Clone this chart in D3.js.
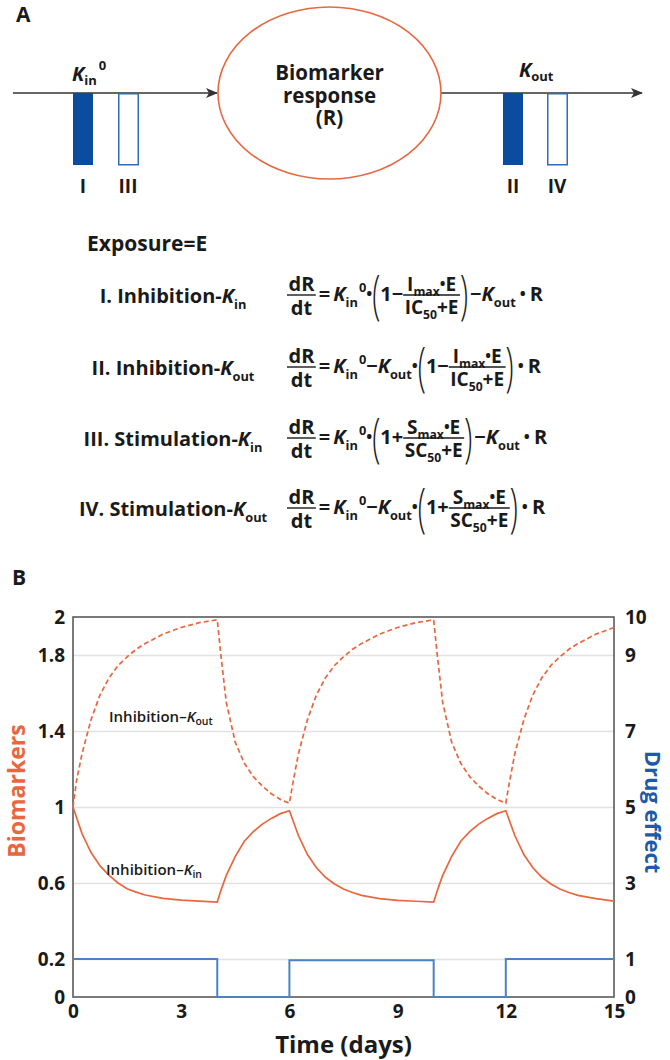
<!DOCTYPE html>
<html><head><meta charset="utf-8">
<script src="https://cdn.jsdelivr.net/npm/d3@7"></script>
<style>
body{margin:0;background:#fff}
svg{display:block}
text{font-family:"Open Sans",Lato,"DejaVu Sans",sans-serif;fill:#1a1a1a}
</style>
</head><body>
<svg id="c" width="670" height="1060"></svg>
<script>
// ---------------- DATA ----------------
const timeKin = [0,0.25,0.5,0.75,1,1.25,1.5,1.75,2,2.5,3,3.5,4,
  4.1,4.25,4.5,4.75,5,5.25,5.5,5.75,6,
  6.25,6.5,6.75,7,7.25,7.5,7.75,8,8.5,9,9.5,10,
  10.1,10.25,10.5,10.75,11,11.25,11.5,11.75,12,
  12.25,12.5,12.75,13,13.25,13.5,13.75,14,14.5,15];
const inhibitionKin = [1.00,0.86,0.76,0.69,0.64,0.60,0.57,0.552,0.537,0.519,0.51,0.505,0.50,
  0.56,0.64,0.74,0.82,0.87,0.91,0.94,0.965,0.98,
  0.85,0.75,0.68,0.63,0.595,0.568,0.55,0.535,0.518,0.509,0.504,0.50,
  0.56,0.64,0.74,0.82,0.87,0.91,0.94,0.965,0.98,
  0.85,0.75,0.68,0.63,0.595,0.568,0.55,0.535,0.518,0.505];
const timeKout = [0,0.1,0.25,0.5,0.75,1,1.25,1.5,1.75,2,2.5,3,3.5,4,
  4.1,4.25,4.5,4.75,5,5.25,5.5,5.75,6,
  6.1,6.25,6.5,6.75,7,7.25,7.5,7.75,8,8.5,9,9.5,10,
  10.1,10.25,10.5,10.75,11,11.25,11.5,11.75,12,
  12.1,12.25,12.5,12.75,13,13.25,13.5,13.75,14,14.5,15];
const inhibitionKout = [1.00,1.14,1.28,1.46,1.59,1.68,1.745,1.79,1.83,1.86,1.91,1.945,1.97,1.985,
  1.80,1.55,1.34,1.23,1.16,1.11,1.07,1.04,1.02,
  1.13,1.28,1.46,1.59,1.68,1.745,1.79,1.83,1.86,1.91,1.945,1.97,1.985,
  1.80,1.55,1.34,1.23,1.16,1.11,1.07,1.04,1.02,
  1.13,1.28,1.46,1.59,1.68,1.745,1.79,1.83,1.86,1.91,1.945];
const doseTimes = [0,4,6,10,12,15];
const drugEffect = [1,0,0.97,0,1,1];
const leftTicks = [0,0.2,0.6,1,1.4,1.8,2];
const rightTicks = [0,1,3,5,7,9,10];
const gridTicks = [0.2,0.6,1,1.4,1.8];
const xTicks = [0,3,6,9,12,15];
const modelNumerals = ["I","III","II","IV"];
const rowLabels = [["I. Inhibition-","in"],["II. Inhibition-","out"],["III. Stimulation-","in"],["IV. Stimulation-","out"]];
const responseLines = ["Biomarker","response","(R)"];

// ---------------- STYLE ----------------
const ORANGE = "#e8673f", BLUE_TXT = "#1d5aa8", BLUE_LINE = "#4a82c6", NAVY = "#0b4c9e";
const svg = d3.select("#c");

// ---------------- PANEL A: diagram ----------------
svg.append("text").attr("x",16).attr("y",22).attr("font-size",21).attr("font-weight",700).text("A");
const defs = svg.append("defs");
defs.append("marker").attr("id","arr").attr("viewBox","0 0 12 10").attr("refX",11).attr("refY",5)
  .attr("markerWidth",12).attr("markerHeight",10).attr("markerUnits","userSpaceOnUse").attr("orient","auto")
  .append("path").attr("d","M0,0 L12,5 L0,10 L3,5 Z").attr("fill","#333");
const axisY = 93;
svg.append("line").attr("x1",13).attr("x2",217).attr("y1",axisY).attr("y2",axisY)
  .attr("stroke","#333").attr("stroke-width",1.5).attr("marker-end","url(#arr)");
svg.append("line").attr("x1",441).attr("x2",642).attr("y1",axisY).attr("y2",axisY)
  .attr("stroke","#333").attr("stroke-width",1.5).attr("marker-end","url(#arr)");
svg.append("ellipse").attr("cx",329.5).attr("cy",93).attr("rx",111.5).attr("ry",86)
  .attr("fill","none").attr("stroke",ORANGE).attr("stroke-width",1.6);
const resp = svg.append("text").attr("text-anchor","middle").attr("font-size",20.5).attr("font-weight",700);
[80,103,125].forEach((y,i)=>resp.append("tspan").attr("x",329.5).attr("y",y).text(responseLines[i]));

const barX = [73,118,503,547];
const barFilled = [true,false,true,false];
barX.forEach((x,i)=>{
  svg.append("rect").attr("x",x+ (barFilled[i]?0:0.75)).attr("y",axisY+ (barFilled[i]?0:0.75))
    .attr("width",barFilled[i]?20:19.5).attr("height",barFilled[i]?72:71)
    .attr("fill",barFilled[i]?NAVY:"#fff").attr("stroke",barFilled[i]?"none":"#2f6db8").attr("stroke-width",1.5);
  svg.append("text").attr("x",x+10).attr("y",193).attr("text-anchor","middle")
    .attr("font-size",19).attr("font-weight",700).text(modelNumerals[i]);
});
function kLabel(x,y,sub,sup){
  const t = svg.append("text").attr("x",x).attr("y",y).attr("font-size",20).attr("font-weight",700);
  t.append("tspan").attr("font-style","italic").text("K");
  t.append("tspan").attr("font-size",13).attr("dy",4).text(sub);
  if(sup) t.append("tspan").attr("font-size",13).attr("dy",-15).attr("dx",2).text(sup);
}
kLabel(72,81,"in","0");
kLabel(519,77,"out",null);

// ---------------- PANEL A: equations ----------------
svg.append("text").attr("x",87).attr("y",251).attr("font-size",21).attr("font-weight",700).text("Exposure=E");

function txt(ctx,x,y,s,size,italic){
  const t = ctx.t.append("tspan").attr("x",x).attr("y",y).attr("font-size",size)
    .attr("font-style",italic?"italic":"normal").text(s);
  return t.node().getComputedTextLength();
}
function measure(atoms,size){
  const g = svg.append("g"); const t = g.append("text").attr("font-weight",700);
  const w = run({t,g},atoms,0,0,size); g.remove(); return w;
}
function run(ctx,atoms,x,y,size){
  atoms.forEach(a=>{
    if(typeof a==="string"){ x += txt(ctx,x,y,a,size,false); }
    else if(a.it){ x += txt(ctx,x,y,a.it,size,true); }
    else if(a.sub){ x += txt(ctx,x,y+size*0.28,a.sub,size*0.64,false); }
    else if(a.sup){ x += txt(ctx,x+1,y-size*0.45,a.sup,size*0.64,false)+1; }
    else if(a.sp){ x += a.sp; }
    else if(a.dot){ x += txt(ctx,x,y-size*0.08,"•",size*0.8,false); }
    else if(a.frac){
      const fs = a.size||size;
      const wn = measure(a.frac[0],fs), wd = measure(a.frac[1],fs);
      const W = Math.max(wn,wd)+3;
      const bar = y - size*0.3;
      run(ctx,a.frac[0],x+(W-wn)/2,bar-4,fs);
      run(ctx,a.frac[1],x+(W-wd)/2,bar+fs*0.98,fs);
      ctx.g.append("line").attr("x1",x).attr("x2",x+W).attr("y1",bar).attr("y2",bar)
        .attr("stroke","#1a1a1a").attr("stroke-width",1.4);
      x += W;
    }
    else if(a.paren){
      const t = ctx.g.append("text").attr("font-size",54).attr("font-weight",300)
        .attr("transform",`translate(${x},${y+12}) scale(0.55,1)`).text(a.paren);
      x += t.node().getComputedTextLength()*0.55;
    }
  });
  return x;
}
const dRdt = {frac:[["dR"],["dt"]]};
const EQ = [{sp:3},"=",{sp:3}];
const Kin0 = [{it:"K"},{sub:"in"},{sup:"0"}];
const Kout = [{it:"K"},{sub:"out"}];
const inhFrac = {frac:[["I",{sub:"max"},{dot:1},"E"],["IC",{sub:"50"},"+E"]],size:19};
const stimFrac = {frac:[["S",{sub:"max"},{dot:1},"E"],["SC",{sub:"50"},"+E"]],size:19};
const equations = [
  [dRdt,...EQ,...Kin0,{dot:1},{paren:"("},"1−",inhFrac,{paren:")"},{sp:2},"−",...Kout,{sp:4},{dot:1},{sp:4},"R"],
  [dRdt,...EQ,...Kin0,"−",...Kout,{dot:1},{paren:"("},"1−",inhFrac,{paren:")"},{sp:4},{dot:1},{sp:4},"R"],
  [dRdt,...EQ,...Kin0,{dot:1},{paren:"("},"1+",stimFrac,{paren:")"},{sp:2},"−",...Kout,{sp:4},{dot:1},{sp:4},"R"],
  [dRdt,...EQ,...Kin0,"−",...Kout,{dot:1},{paren:"("},"1+",stimFrac,{paren:")"},{sp:4},{dot:1},{sp:4},"R"]
];
const rowBars = [295,367,438,508];
equations.forEach((eq,i)=>{
  const g = svg.append("g");
  const t = g.append("text").attr("font-weight",700);
  run({t,g},eq,287,rowBars[i]+6,20);
  const label = [rowLabels[i][0],{it:"K"},{sub:rowLabels[i][1]}];
  const w = measure(label,20);
  const lg = svg.append("g");
  const lt = lg.append("text").attr("font-weight",700);
  run({t:lt,g:lg},label,173-w/2,rowBars[i]+8,20);
});

// ---------------- PANEL B: chart ----------------
svg.append("text").attr("x",12).attr("y",585).attr("font-size",21).attr("font-weight",700).text("B");
const x = d3.scaleLinear().domain([0,15]).range([73,614]);
const yL = d3.scaleLinear().domain([0,2]).range([997,617]);
const yR = d3.scaleLinear().domain([0,10]).range([997,617]);

svg.append("g").attr("transform",`translate(${x(0)},0)`)
  .call(d3.axisLeft(yL).tickValues(gridTicks).tickSize(-(x(15)-x(0))).tickFormat(""))
  .call(g=>{g.select(".domain").remove(); g.selectAll("line").attr("stroke","#e2e2e2").attr("stroke-width",1.5);});

svg.append("rect").attr("x",x(0)).attr("y",yL(2)).attr("width",x(15)-x(0)).attr("height",yL(0)-yL(2))
  .attr("fill","none").attr("stroke","#5a5a5a").attr("stroke-width",1.6);

const styleAxis = g=>{ g.select(".domain").remove(); g.selectAll("line").remove();
  g.selectAll("text").attr("font-size",19).attr("font-weight",700).attr("fill","#1a1a1a")
   .attr("font-family","'Open Sans',Lato,sans-serif"); };
svg.append("g").attr("transform",`translate(${x(0)},0)`)
  .call(d3.axisLeft(yL).tickValues(leftTicks).tickSize(0).tickPadding(8).tickFormat(d3.format("~g"))).call(styleAxis);
svg.append("g").attr("transform",`translate(${x(15)},0)`)
  .call(d3.axisRight(yR).tickValues(rightTicks).tickSize(0).tickPadding(11).tickFormat(d3.format("~g"))).call(styleAxis);
svg.append("g").attr("transform",`translate(0,${yL(0)})`)
  .call(d3.axisBottom(x).tickValues(xTicks).tickSize(0).tickPadding(8).tickFormat(d3.format("~g"))).call(styleAxis);

const stepLine = d3.line().x((d,i)=>x(doseTimes[i])).y(d=>yR(d)).curve(d3.curveStepAfter);
svg.append("path").datum(drugEffect).attr("d",stepLine).attr("fill","none")
  .attr("stroke",BLUE_LINE).attr("stroke-width",2);

const lineKin = d3.line().x((d,i)=>x(timeKin[i])).y(d=>yL(d));
const lineKout = d3.line().x((d,i)=>x(timeKout[i])).y(d=>yL(d));
svg.append("path").datum(inhibitionKout).attr("d",lineKout).attr("fill","none")
  .attr("stroke",ORANGE).attr("stroke-width",1.7).attr("stroke-dasharray","5,3");
svg.append("path").datum(inhibitionKin).attr("d",lineKin).attr("fill","none")
  .attr("stroke",ORANGE).attr("stroke-width",1.7);

function curveLabel(xp,yp,sub){
  const t = svg.append("text").attr("x",xp).attr("y",yp).attr("font-size",15).attr("font-weight",600).attr("fill","#222");
  t.append("tspan").text("Inhibition–");
  t.append("tspan").attr("font-style","italic").text("K");
  t.append("tspan").attr("font-size",10.5).attr("dy",3).text(sub);
}
curveLabel(109,722,"out");
curveLabel(106,875,"in");

svg.append("text").attr("transform",`translate(25,791) rotate(-90)`).attr("text-anchor","middle")
  .attr("font-size",23).attr("font-weight",700).style("fill",ORANGE).text("Biomarkers");
svg.append("text").attr("transform",`translate(645,812) rotate(90)`).attr("text-anchor","middle")
  .attr("font-size",22).attr("font-weight",700).style("fill",BLUE_TXT).text("Drug effect");
svg.append("text").attr("x",343.5).attr("y",1053).attr("text-anchor","middle")
  .attr("font-size",24).attr("font-weight",700).text("Time (days)");
</script>
</body></html>
